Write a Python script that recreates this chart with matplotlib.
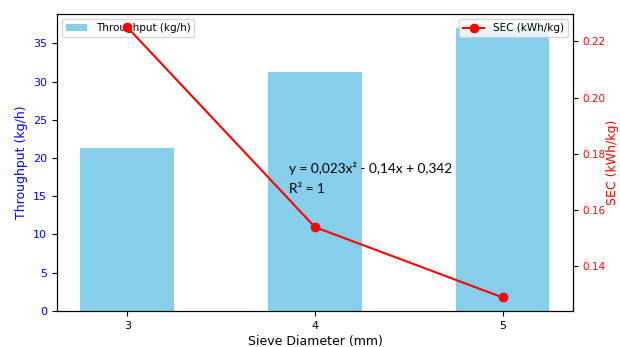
import matplotlib
matplotlib.use("Agg")
import matplotlib.pyplot as plt

sieve = [3, 4, 5]
throughput = [21.3, 31.2, 37.0]
sec = [0.225, 0.154, 0.129]
eq_text = "y = 0,023x² - 0,14x + 0,342\nR² = 1"

fig = plt.figure(figsize=(6.2, 3.47), dpi=100)
ax1 = fig.add_axes([0.092, 0.104, 0.832, 0.856])
ax1.bar(sieve, throughput, width=0.5, color='skyblue', label='Throughput (kg/h)')
ax1.set_xlabel('Sieve Diameter (mm)', fontsize=9, labelpad=3)
ax1.set_ylabel('Throughput (kg/h)', color='blue', fontsize=9)
ax1.tick_params(axis='y', labelcolor='blue', labelsize=8)
ax1.tick_params(axis='x', labelsize=8)
ax1.set_xticks(sieve)
ax1.legend(loc='upper left', fontsize=7.5)

ax2 = ax1.twinx()
ax2.plot(sieve, sec, color='red', marker='o', label='SEC (kWh/kg)')
ax2.set_ylabel('SEC (kWh/kg)', color='red', fontsize=9, labelpad=1)
ax2.tick_params(axis='y', labelcolor='red', labelsize=7.5, pad=3)
ax2.legend(loc='upper right', fontsize=7.5)

ax1.text(3.86, 17.3, eq_text, fontsize=9.8, family='Lato', ha='left', va='center',
         linespacing=1.8, zorder=5)

fig.savefig('out.png', dpi=100)
